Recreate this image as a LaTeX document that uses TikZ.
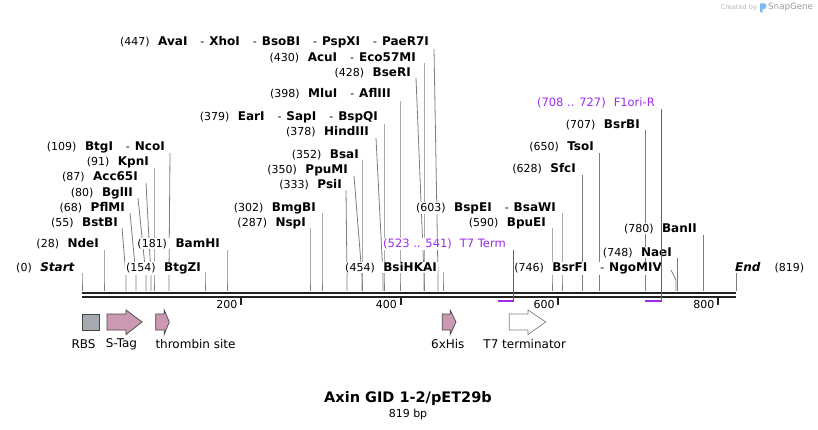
\documentclass[tikz,border=0pt]{standalone}
\usepackage{fontspec}
\setmainfont{DejaVu Sans}
\pgfdeclarelayer{bg}
\pgfdeclarelayer{paper}
\pgfsetlayers{paper,bg,main}
\definecolor{elinec}{RGB}{125,125,125}
\definecolor{mapc}{RGB}{34,34,34}
\definecolor{purp}{RGB}{158,42,240}
\definecolor{pinkf}{RGB}{204,153,179}
\definecolor{grayf}{RGB}{165,170,176}
\definecolor{fborder}{RGB}{70,70,70}
\definecolor{wmgray}{RGB}{185,185,185}
\definecolor{wmblue}{RGB}{125,185,235}
\tikzset{
  lab/.style={fill=white, inner xsep=1pt, inner ysep=0.5pt, font=\fontsize{12}{14}\selectfont, anchor=base east},
  cutline/.style={draw=elinec, line width=0.8pt},
  mapline/.style={draw=mapc},
  tickline/.style={draw=mapc, line width=2pt},
  ticklab/.style={font=\fontsize{11}{13}\selectfont, anchor=east, inner sep=0pt},
  featlab/.style={font=\fontsize{12}{14}\selectfont, inner sep=0pt},
  feat/.style={draw=fborder, line width=0.7pt, line join=miter},
  purpline/.style={draw=purp, line width=0.9pt},
  purpbar/.style={draw=purp, line width=2pt},
  purplab/.style={lab, text=purp, font=\fontsize{11.5}{14}\selectfont},
}
\newcommand{\pn}[1]{{\fontsize{11}{13}\selectfont(#1)}\hspace{8.5pt}}
\newcommand{\enm}[1]{\textbf{#1}}
\newcommand{\sepd}{\hspace{13pt}{\fontsize{11}{13}\selectfont-}\hspace{5pt}}
% name, xtop, ytop, xmap, ykink
\newcommand{\cutl}[5]{%
  \coordinate (#1-t) at (#2,#3);
  \coordinate (#1-k) at (#4,#5);
  \coordinate (#1-m) at (#4,291);
  \begin{pgfonlayer}{bg}\draw[cutline] (#1-t) -- (#1-k) -- (#1-m);\end{pgfonlayer}}
% name, xright, ycenter, text
\newcommand{\elab}[4]{\node[lab] (#1) at (#2+1,#3+4.5) {#4};}
\begin{document}
\begin{tikzpicture}[x=1pt,y=-1pt]
\useasboundingbox (0,0) rectangle (818,430);
\begin{pgfonlayer}{paper}
\fill[white] (0,0) rectangle (818,430);
\end{pgfonlayer}

% watermark
\node[anchor=west, inner sep=0pt, text=wmgray, font=\fontsize{6.6}{8}\selectfont] (wm1) at (720.5,7.5) {Created by};
\fill[wmblue] (760,3.5) -- (764.5,3.5) .. controls (767,3.5) and (767,9) .. (764.5,9) -- (762.5,9) -- (762.5,12.5) -- (760,12.5) -- cycle;
\node[anchor=west, inner sep=0pt, text=wmgray!85!black, font=\fontsize{8.7}{10}\selectfont] (wm2) at (768,7.5) {SnapGene};

% cut lines
\cutl{start}{82}{273}{82}{276}
\cutl{ndei}{104}{250}{104}{276}
\cutl{bstbi}{122}{228}{126}{276}
\cutl{pflmi}{130}{213}{136}{276}
\cutl{bglii}{138}{198}{146}{276}
\cutl{acc}{146}{183}{151}{276}
\cutl{kpni}{154}{168}{154}{276}
\cutl{ncoi}{170}{153}{169}{276}
\cutl{btgzi}{205}{272}{205}{276}
\cutl{bamhi}{227}{250}{227}{276}
\cutl{nspi}{310}{228}{310}{276}
\cutl{bmgbi}{322}{213}{322}{276}
\cutl{psii}{346}{190}{347}{276}
\cutl{ppumi}{354}{176}{362}{276}
\cutl{bsai}{362}{160}{362}{276}
\cutl{hind}{376}{138}{383}{276}
\cutl{eari}{384}{124}{384}{276}
\cutl{mlui}{400}{101}{400}{276}
\cutl{bseri}{416}{78}{424}{276}
\cutl{acui}{424}{63}{424}{276}
\cutl{avai}{434}{49}{438}{276}
\cutl{bsihkai}{443}{272}{443}{276}
\cutl{bspei}{562}{213}{562}{276}
\cutl{bpuei}{552}{228}{552}{276}
\cutl{sfci}{582}{175}{582}{276}
\cutl{tsoi}{599}{153}{599}{276}
\cutl{bsrbi}{645}{130}{645}{276}
\cutl{bsrfi}{671}{270}{676}{280}
\cutl{naei}{677}{258}{677}{276}
\cutl{banii}{703}{235}{703}{276}
\cutl{endl}{736}{272}{736}{276}

% enzyme labels
\elab{start}{75}{267}{\pn{0}\textbf{\textit{Start}}}
\elab{ndei}{99}{243}{\pn{28}\enm{NdeI}}
\elab{bstbi}{118}{222}{\pn{55}\enm{BstBI}}
\elab{pflmi}{125}{207}{\pn{68}\enm{PflMI}}
\elab{bglii}{133}{192}{\pn{80}\enm{BglII}}
\elab{acc}{138}{176}{\pn{87}\enm{Acc65I}}
\elab{kpni}{149}{161}{\pn{91}\enm{KpnI}}
\elab{ncoi}{165}{146}{\pn{109}\enm{BtgI}\sepd\enm{NcoI}}
\elab{btgzi}{201}{267}{\pn{154}\enm{BtgZI}}
\elab{bamhi}{220}{243}{\pn{181}\enm{BamHI}}
\elab{nspi}{306}{222}{\pn{287}\enm{NspI}}
\elab{bmgbi}{316}{207}{\pn{302}\enm{BmgBI}}
\elab{psii}{342}{184}{\pn{333}\enm{PsiI}}
\elab{ppumi}{348}{169}{\pn{350}\enm{PpuMI}}
\elab{bsai}{359}{154}{\pn{352}\enm{BsaI}}
\elab{hind}{369}{131}{\pn{378}\enm{HindIII}}
\elab{eari}{378}{116}{\pn{379}\enm{EarI}\sepd\enm{SapI}\sepd\enm{BspQI}}
\elab{mlui}{391}{93}{\pn{398}\enm{MluI}\sepd\enm{AflIII}}
\elab{bseri}{411}{72}{\pn{428}\enm{BseRI}}
\elab{acui}{416}{57}{\pn{430}\enm{AcuI}\sepd\enm{Eco57MI}}
\elab{avai}{429}{41}{\pn{447}\enm{AvaI}\sepd\enm{XhoI}\sepd\enm{BsoBI}\sepd\enm{PspXI}\sepd\enm{PaeR7I}}
\elab{bsihkai}{437}{267}{\pn{454}\enm{BsiHKAI}}
\elab{bspei}{556}{207}{\pn{603}\enm{BspEI}\sepd\enm{BsaWI}}
\elab{bpuei}{546}{222}{\pn{590}\enm{BpuEI}}
\elab{sfci}{576}{168}{\pn{628}\enm{SfcI}}
\elab{tsoi}{594}{146}{\pn{650}\enm{TsoI}}
\elab{bsrbi}{640}{124}{\pn{707}\enm{BsrBI}}
\elab{bsrfi}{662}{267}{\pn{746}\enm{BsrFI}\sepd\enm{NgoMIV}}
\elab{naei}{672}{252}{\pn{748}\enm{NaeI}}
\elab{banii}{697}{228}{\pn{780}\enm{BanII}}
\node[lab, anchor=base west] (endlab) at (734,271.5) {\textbf{\textit{End}}\hspace{14pt}{\fontsize{11}{13}\selectfont(819)}};

% primer / terminator annotations
\node[purplab] (t7t) at (507,247.5) {(523 .. 541)\hspace{8pt}T7 Term};
\node[purplab] (f1r) at (656,106.5) {(708 .. 727)\hspace{8pt}F1ori-R};

% map
\coordinate (m0a) at (82,292.8);
\coordinate (m1a) at (736,292.8);
\coordinate (m0b) at (82,297.2);
\coordinate (m1b) at (736,297.2);
\draw[mapline, line width=2.5pt] (m0a) -- (m1a);
\draw[mapline, line width=2.1pt] (m0b) -- (m1b);

\coordinate (t7top) at (513,250);
\coordinate (t7bot) at (513,302);
\coordinate (t7l) at (498,301);
\coordinate (t7r) at (513.4,301);
\draw[purpline] (t7top) -- (t7bot);
\draw[purpbar] (t7l) -- (t7r);
\coordinate (f1top) at (661.5,109);
\coordinate (f1bot) at (661.5,302);
\coordinate (f1l) at (645,301);
\coordinate (f1r2) at (661.9,301);
\draw[purpline] (f1top) -- (f1bot);
\draw[purpbar] (f1l) -- (f1r2);

% ticks
\foreach \tx/\tl in {241/200, 400.5/400, 558.3/600, 718/800}{
  \draw[tickline] (\tx,297) -- (\tx,305);
  \node[ticklab] (tick\tl) at (\tx-3.5,304.5) {\tl};
}

% features
\draw[feat, fill=grayf] (82,314) rectangle (99.5,330);
\draw[feat, fill=pinkf] (107,314) -- (126,314) -- (126,310) -- (142,322) -- (126,334.5) -- (126,330) -- (107,330) -- cycle;
\draw[feat, fill=pinkf] (155.7,314) -- (164.2,314) -- (164.2,310) -- (169.3,322) -- (164.2,334.5) -- (164.2,330) -- (155.7,330) -- cycle;
\draw[feat, fill=pinkf] (442.3,314) -- (450.2,314) -- (450.2,310) -- (456,322) -- (450.2,334.5) -- (450.2,330) -- (442.3,330) -- cycle;
\draw[feat, draw=gray, fill=white] (509.3,314) -- (528,314) -- (528,310) -- (545.7,322) -- (528,334.5) -- (528,330) -- (509.3,330) -- cycle;

\node[featlab] (rbs) at (83.5,344) {RBS};
\node[featlab] (stag) at (121.5,344) {S-Tag};
\node[featlab, anchor=west] (thr) at (155.3,344) {thrombin site};
\node[featlab] (his) at (447.8,344) {6xHis};
\node[featlab] (t7term) at (524.7,344) {T7 terminator};

% title
\node[inner sep=0pt, font=\fontsize{14.5}{17}\bfseries] (title) at (408,398.5) {Axin GID 1-2/pET29b};
\node[inner sep=0pt, font=\fontsize{11}{13}\selectfont] (size) at (408,414) {819 bp};
\end{tikzpicture}
\end{document}
